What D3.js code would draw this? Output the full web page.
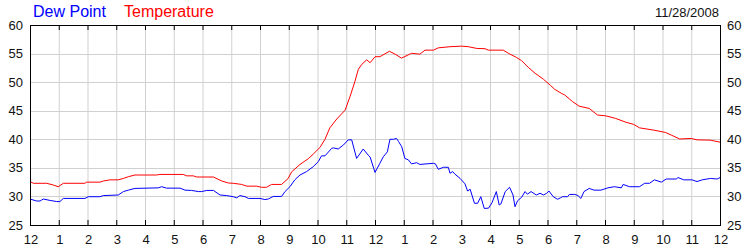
<!DOCTYPE html>
<html>
<head>
<meta charset="utf-8">
<script src="https://cdn.jsdelivr.net/npm/d3@7"></script>
<style>
  body { margin: 0; background: #fff; }
  text { font-family: "Liberation Sans", Arial, sans-serif; }
</style>
</head>
<body>
<div id="chart"></div>
<script>
// values (hours since midnight, degrees F)
const tempHours = [0, 0.12, 0.58, 0.81, 0.98, 1.16, 1.91, 1.97, 2.43, 2.55, 2.78, 3.07, 3.25, 3.42, 3.65, 4.4, 4.52, 5.33, 5.45, 5.68, 5.8, 6.38, 6.67, 6.9, 7.07, 7.36, 7.54, 7.88, 8.05, 8.23, 8.4, 8.75, 8.98, 9.1, 9.39, 9.68, 9.85, 10.09, 10.26, 10.43, 10.67, 10.96, 11.13, 11.3, 11.42, 11.54, 11.71, 11.83, 12.0, 12.17, 12.5, 12.7, 12.92, 13.27, 13.56, 13.74, 14.03, 14.2, 14.61, 15.01, 15.25, 15.54, 15.83, 15.94, 16.46, 16.64, 16.93, 17.1, 17.33, 17.57, 17.86, 18.1, 18.25, 18.48, 18.6, 18.87, 19.1, 19.45, 19.74, 20.03, 20.37, 20.72, 21.0, 21.2, 21.7, 22.1, 22.3, 22.6, 23.0, 23.2, 23.66, 24]
const tempValues = [32.6, 32.3, 32.3, 32.0, 31.7, 32.3, 32.3, 32.5, 32.5, 32.7, 32.9, 32.9, 33.15, 33.45, 33.75, 33.75, 33.85, 33.85, 33.6, 33.6, 33.4, 33.4, 32.7, 32.35, 32.3, 32.1, 31.8, 31.8, 31.6, 31.6, 32.1, 32.1, 33.15, 34.3, 35.6, 36.6, 37.4, 38.6, 40.0, 42.0, 43.55, 45.1, 47.45, 50.1, 52.25, 53.1, 53.9, 53.4, 54.45, 54.45, 55.4, 54.9, 54.2, 55.05, 54.9, 55.6, 55.6, 56.0, 56.2, 56.3, 56.2, 55.9, 55.85, 55.6, 55.6, 55.05, 54.3, 53.75, 52.6, 51.55, 50.5, 49.45, 48.75, 48.05, 47.75, 46.6, 45.8, 45.4, 44.25, 44.1, 43.65, 43.0, 42.6, 42.0, 41.6, 41.2, 40.75, 40.05, 40.15, 39.9, 39.85, 39.5]

const dewHours = [0, 0.23, 0.35, 0.46, 0.7, 0.93, 1.04, 1.16, 1.91, 2.03, 2.43, 2.55, 3.07, 3.25, 3.42, 3.65, 4.46, 4.58, 4.75, 5.22, 5.39, 5.62, 5.86, 5.97, 6.15, 6.38, 6.61, 6.84, 7.07, 7.19, 7.3, 7.48, 7.6, 8.0, 8.17, 8.29, 8.46, 8.75, 8.87, 9.04, 9.21, 9.39, 9.62, 9.85, 10.03, 10.14, 10.26, 10.49, 10.55, 10.72, 10.9, 11.07, 11.19, 11.36, 11.59, 11.76, 11.83, 12.0, 12.17, 12.29, 12.43, 12.52, 12.64, 12.75, 12.82, 12.93, 13.04, 13.16, 13.27, 13.45, 13.56, 14.03, 14.1, 14.2, 14.38, 14.55, 14.61, 14.7, 14.78, 14.96, 15.13, 15.22, 15.31, 15.46, 15.57, 15.68, 15.8, 15.95, 16.07, 16.22, 16.32, 16.38, 16.53, 16.68, 16.8, 16.87, 16.96, 17.1, 17.22, 17.3, 17.43, 17.61, 17.74, 17.86, 17.97, 18.05, 18.2, 18.35, 18.45, 18.52, 18.7, 18.76, 18.95, 19.06, 19.16, 19.27, 19.45, 19.62, 19.86, 20.1, 20.33, 20.57, 20.63, 20.85, 21.2, 21.38, 21.55, 21.72, 21.96, 22.13, 22.48, 22.54, 22.74, 23.03, 23.2, 23.38, 23.67, 23.9, 24]
const dewValues = [29.55, 29.2, 29.2, 29.55, 29.3, 29.1, 29.1, 29.65, 29.65, 29.95, 29.95, 30.15, 30.25, 30.85, 31.1, 31.4, 31.5, 31.7, 31.45, 31.45, 31.1, 31.05, 30.85, 30.85, 31.05, 31.05, 30.25, 30.15, 29.95, 29.75, 30.15, 29.95, 29.65, 29.65, 29.45, 29.55, 30.0, 30.0, 30.85, 31.7, 32.9, 33.75, 34.35, 35.2, 36.1, 37.1, 37.1, 38.4, 38.5, 38.3, 39.0, 39.9, 39.9, 36.65, 38.3, 37.25, 36.9, 34.2, 35.8, 36.95, 37.8, 40.0, 40.0, 40.15, 39.6, 38.7, 36.65, 36.4, 35.7, 35.9, 35.6, 35.8, 35.7, 34.75, 35.1, 35.1, 34.05, 34.35, 33.9, 33.15, 32.2, 30.95, 31.25, 28.8, 28.8, 29.95, 27.9, 27.95, 28.9, 30.85, 28.5, 28.7, 30.85, 31.6, 30.25, 28.2, 29.25, 29.85, 30.85, 30.4, 30.85, 30.25, 30.55, 30.25, 30.55, 30.95, 29.95, 29.5, 29.75, 29.95, 29.95, 30.35, 30.35, 30.15, 29.65, 30.85, 31.4, 31.1, 31.1, 31.5, 31.7, 31.5, 32.1, 31.7, 31.7, 32.3, 32.3, 32.9, 32.5, 33.05, 33.05, 33.3, 32.9, 32.9, 32.6, 32.9, 33.15, 33.05, 33.3]

const hourTicks = d3.range(0, 25)
const hourLabels = ["12", "1", "2", "3", "4", "5", "6", "7", "8", "9", "10", "11",
                    "12", "1", "2", "3", "4", "5", "6", "7", "8", "9", "10", "11", "12"]
const valueTicks = [25, 30, 35, 40, 45, 50, 55, 60]
const legendNames = ["Dew Point", "Temperature"]
const dateLabel = "11/28/2008"

const MARGIN = {LEFT: 30, RIGHT: 30, TOP: 25, BOTTOM: 25}
const WIDTH = 750 - MARGIN.LEFT - MARGIN.RIGHT
const HEIGHT = 250 - MARGIN.TOP - MARGIN.BOTTOM

const svg = d3.select("#chart").append("svg")
    .attr("width", 750)
    .attr("height", 250)

const g = svg.append("g")
    .attr("transform", `translate(${MARGIN.LEFT}, ${MARGIN.TOP})`)

const x = d3.scaleLinear().domain([0, 24]).range([0, WIDTH])
const y = d3.scaleLinear().domain([25, 60]).range([HEIGHT, 0])

// grid
g.append("g").selectAll("line")
    .data(hourTicks.slice(1, -1))
    .enter().append("line")
    .attr("x1", d => x(d) + 0.5).attr("x2", d => x(d) + 0.5)
    .attr("y1", 0).attr("y2", HEIGHT)
    .attr("stroke", "#d0d0d0")

g.append("g").selectAll("line")
    .data(valueTicks.slice(1, -1))
    .enter().append("line")
    .attr("y1", d => Math.round(y(d)) + 0.5).attr("y2", d => Math.round(y(d)) + 0.5)
    .attr("x1", 0).attr("x2", WIDTH)
    .attr("stroke", "#d0d0d0")

// small tick marks top and bottom
const ticks = g.append("g").attr("stroke", "#000")
ticks.selectAll(".tt")
    .data(hourTicks.slice(1, -1))
    .enter().append("line")
    .attr("x1", d => x(d) + 0.5).attr("x2", d => x(d) + 0.5)
    .attr("y1", 0).attr("y2", 5)
ticks.selectAll(".bt")
    .data(hourTicks.slice(1, -1))
    .enter().append("line")
    .attr("x1", d => x(d) + 0.5).attr("x2", d => x(d) + 0.5)
    .attr("y1", HEIGHT - 5).attr("y2", HEIGHT)

// series
const tempLine = d3.line()
    .x((d, i) => x(tempHours[i]))
    .y(d => y(d))
const dewLine = d3.line()
    .x((d, i) => x(dewHours[i]))
    .y(d => y(d))

g.append("path")
    .attr("d", tempLine(tempValues))
    .attr("fill", "none")
    .attr("stroke", "#ff0000")
    .attr("stroke-width", 1)
g.append("path")
    .attr("d", dewLine(dewValues))
    .attr("fill", "none")
    .attr("stroke", "#0000ff")
    .attr("stroke-width", 1)

// frame
g.append("rect")
    .attr("x", 0.5).attr("y", 0.5)
    .attr("width", WIDTH).attr("height", HEIGHT)
    .attr("fill", "none")
    .attr("stroke", "#000")

// axis labels
g.append("g").selectAll("text")
    .data(valueTicks)
    .enter().append("text")
    .attr("x", -7).attr("y", d => y(d))
    .attr("dy", "0.35em")
    .attr("text-anchor", "end")
    .attr("font-size", 13)
    .attr("fill", "#111")
    .text(d => d)

g.append("g").selectAll("text")
    .data(valueTicks)
    .enter().append("text")
    .attr("x", WIDTH + 7).attr("y", d => y(d))
    .attr("dy", "0.35em")
    .attr("font-size", 13)
    .attr("fill", "#111")
    .text(d => d)

g.append("g").selectAll("text")
    .data(hourTicks)
    .enter().append("text")
    .attr("x", d => x(d) + 1)
    .attr("y", HEIGHT + 19)
    .attr("text-anchor", "middle")
    .attr("font-size", 13)
    .attr("fill", "#111")
    .text((d, i) => hourLabels[i])

// legend and date
svg.append("text").attr("x", 33).attr("y", 17)
    .attr("font-size", 16).attr("fill", "#0000ff")
    .text(legendNames[0])
svg.append("text").attr("x", 124).attr("y", 17)
    .attr("font-size", 16).attr("fill", "#ff0000")
    .text(legendNames[1])
svg.append("text").attr("x", 719).attr("y", 17)
    .attr("text-anchor", "end")
    .attr("font-size", 13).attr("fill", "#111")
    .text(dateLabel)
</script>
</body>
</html>
